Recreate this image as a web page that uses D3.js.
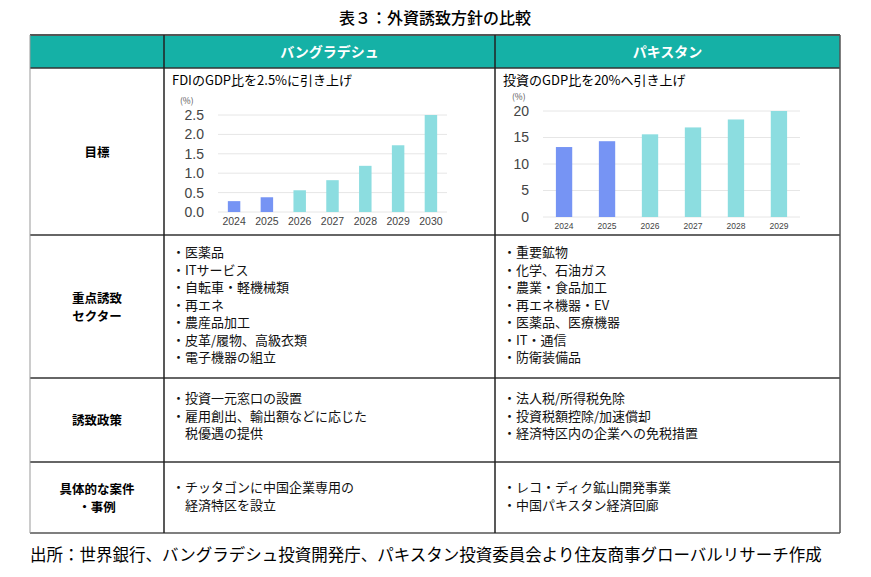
<!DOCTYPE html>
<html><head><meta charset="utf-8">
<script src="https://cdn.jsdelivr.net/npm/d3@7"></script>
<style>body{margin:0;background:#fff}text{font-family:"Noto Sans CJK JP",sans-serif}</style>
</head><body>
<svg id="c" width="871" height="577"></svg>
<script>
const bdYears = ['2024', '2025', '2026', '2027', '2028', '2029', '2030'];
const bdValues = [0.28, 0.38, 0.56, 0.82, 1.19, 1.72, 2.5];
const bdTicks = [0, 0.5, 1.0, 1.5, 2.0, 2.5];
const pkYears = ['2024', '2025', '2026', '2027', '2028', '2029'];
const pkValues = [13.2, 14.3, 15.6, 16.9, 18.4, 20.0];
const pkTicks = [0, 5, 10, 15, 20];
const actualYears = ['2024', '2025'];

const rowLabels = [['目標'], ['重点誘致', 'セクター'], ['誘致政策'], ['具体的な案件', '・事例']];
const bdLists = [
    ['・医薬品', '・ITサービス', '・自転車・軽機械類', '・再エネ', '・農産品加工', '・皮革/履物、高級衣類', '・電子機器の組立'],
    ['・投資一元窓口の設置', '・雇用創出、輸出額などに応じた', '　税優遇の提供'],
    ['・チッタゴンに中国企業専用の', '　経済特区を設立'],
];
const pkLists = [
    ['・重要鉱物', '・化学、石油ガス', '・農業・食品加工', '・再エネ機器・EV', '・医薬品、医療機器', '・IT・通信', '・防衛装備品'],
    ['・法人税/所得税免除', '・投資税額控除/加速償却', '・経済特区内の企業への免税措置'],
    ['・レコ・ディク鉱山開発事業', '・中国パキスタン経済回廊'],
];

const svg = d3.select('#c');
const X = [30, 164, 495, 840];
const Y = [35, 68, 235, 378, 462, 533];

svg.append('text').attr('x', 435).attr('y', 24).attr('text-anchor', 'middle')
    .attr('font-size', 16).attr('font-weight', 500).text('表３：外資誘致方針の比較');

svg.append('rect').attr('x', X[0]).attr('y', Y[0]).attr('width', X[3] - X[0]).attr('height', Y[1] - Y[0])
    .attr('fill', '#15b1a6');
[['バングラデシュ', (X[1] + X[2]) / 2], ['パキスタン', (X[2] + X[3]) / 2]].forEach(([t, x]) => {
    svg.append('text').attr('x', x).attr('y', 57).attr('text-anchor', 'middle').attr('fill', '#fff')
        .attr('font-size', 14).attr('font-weight', 'bold').text(t);
});

// grid lines
Y.forEach((y, i) => svg.append('line').attr('x1', X[0]).attr('x2', X[3]).attr('y1', y).attr('y2', y)
    .attr('stroke', i === 0 || i === 5 ? '#555' : '#333').attr('stroke-width', i === 0 ? 2 : 1.3));
X.forEach((x, i) => svg.append('line').attr('x1', x).attr('x2', x).attr('y1', Y[0]).attr('y2', Y[5])
    .attr('stroke', i === 0 ? '#999' : (i === 3 ? '#555' : '#222')).attr('stroke-width', i === 0 ? 1 : 1.5));

// row labels
rowLabels.forEach((lines, i) => {
    const cy = (Y[i + 1] + Y[i + 2]) / 2;
    lines.forEach((t, j) => svg.append('text').attr('x', (X[0] + X[1]) / 2)
        .attr('y', cy + 5 + (j - (lines.length - 1) / 2) * 18).attr('text-anchor', 'middle')
        .attr('font-size', 12.5).attr('font-weight', 'bold').text(t));
});

// lists
function drawList(list, x, y0) {
    list.forEach((t, j) => svg.append('text').attr('x', x).attr('y', y0 + j * 17.5)
        .attr('font-size', 13).attr('fill', '#111').text(t));
}
const listTop = [257, 403, 492];
bdLists.forEach((l, i) => drawList(l, 172, listTop[i]));
pkLists.forEach((l, i) => drawList(l, 503, listTop[i]));

// charts
function chart(o) {
    const x = d3.scaleBand().domain(o.years).range([o.x0, o.x1]).paddingInner(0.62).paddingOuter(0.3);
    const y = d3.scaleLinear().domain([0, o.max]).range([o.y0, o.y1]);
    const g = svg.append('g');
    g.append('text').attr('x', o.tx).attr('y', 85).attr('font-size', 13).text(o.title);
    g.append('text').attr('x', o.ux).attr('y', o.y1 - 11).attr('font-size', 8.5).attr('fill', '#555').text('(%)');
    g.selectAll('line.grid').data(o.ticks).join('line').attr('class', 'grid')
        .attr('x1', o.x0).attr('x2', o.x1).attr('y1', d => y(d)).attr('y2', d => y(d))
        .attr('stroke', '#e6e6e6');
    const ay = d3.axisLeft(y).tickValues(o.ticks).tickFormat(o.fmt).tickSize(0).tickPadding(o.pad);
    g.append('g').attr('transform', `translate(${o.x0},0)`).call(ay)
        .call(s => s.select('.domain').remove())
        .selectAll('text').attr('font-size', o.yfs).attr('fill', '#444')
        .style('font-family', 'Arial, "Liberation Sans", sans-serif');
    const ax = d3.axisBottom(x).tickSize(0).tickPadding(6);
    g.append('g').attr('transform', `translate(0,${o.y0})`).call(ax)
        .call(s => s.select('.domain').remove())
        .selectAll('text').attr('font-size', o.xfs).attr('fill', '#444')
        .style('font-family', 'Arial, "Liberation Sans", sans-serif');
    g.selectAll('rect.bar').data(o.values).join('rect').attr('class', 'bar')
        .attr('x', (d, i) => x(o.years[i])).attr('width', x.bandwidth())
        .attr('y', d => y(d)).attr('height', d => o.y0 - y(d))
        .attr('fill', (d, i) => (actualYears.includes(o.years[i]) ? '#7694f4' : '#8cdde0'));
}
chart({ years: bdYears, values: bdValues, ticks: bdTicks, max: 2.5, x0: 218, x1: 447, y0: 212, y1: 115,
    fmt: d3.format('.1f'), title: 'FDIのGDP比を2.5%に引き上げ', tx: 172, ux: 180, pad: 14, yfs: 14, xfs: 10.5 });
chart({ years: pkYears, values: pkValues, ticks: pkTicks, max: 20, x0: 543, x1: 800, y0: 217, y1: 111,
    fmt: d3.format('d'), title: '投資のGDP比を20%へ引き上げ', tx: 503, ux: 512, pad: 14, yfs: 14, xfs: 8.5 });

svg.append('text').attr('x', 30).attr('y', 561).attr('font-size', 16.5)
    .text('出所：世界銀行、バングラデシュ投資開発庁、パキスタン投資委員会より住友商事グローバルリサーチ作成');
</script>
</body></html>
